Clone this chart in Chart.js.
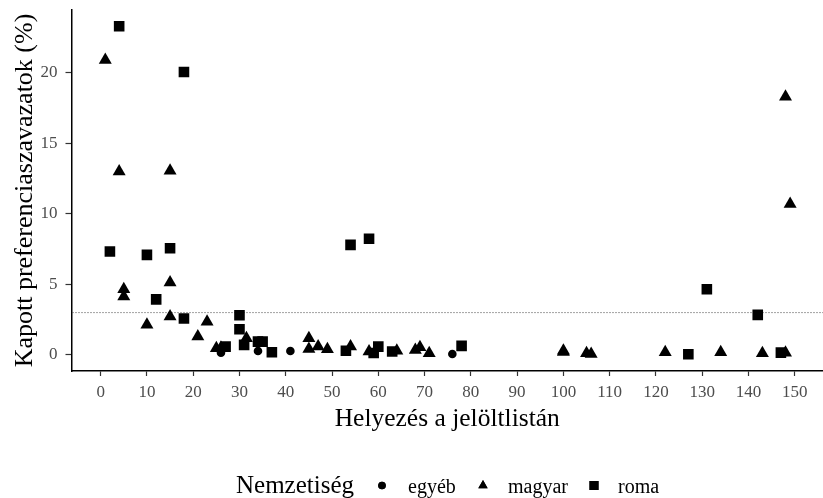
<!DOCTYPE html>
<html>
<head>
<meta charset="utf-8">
<script src="https://cdn.jsdelivr.net/npm/chart.js@4/dist/chart.umd.min.js"></script>
<style>
  body { margin: 0; background: #fff; }
  #wrap { width: 823px; height: 498px; }
</style>
</head>
<body>
<div id="wrap"><canvas id="Chart1" width="823" height="498"></canvas></div>
<script>
// data: [helyezés, kapott preferenciaszavazat %]
const egyeb = [[26,0.16],[34,0.28],[41,0.28],[76,0.07]];
const magyar = [
  [1,20.9],[4,13.0],[15,13.05],[5,4.66],[5,4.14],[15,5.13],[10,2.13],[15,2.72],
  [23,2.36],[21,1.3],[31.5,1.18],[25,0.47],[26,0.5],[45,1.18],[45,0.42],[47,0.59],
  [49,0.4],[54,0.59],[58,0.24],[64,0.3],[68,0.35],[69,0.54],[71,0.12],
  [100,0.3],[100,0.2],[105,0.12],[106,0.07],[122,0.19],[134,0.19],[143,0.12],
  [148,0.16],[148,18.3],[149,10.7]
];
const roma = [
  [4,23.3],[18,20.05],[2,7.33],[10,7.09],[15,7.56],[12,3.94],[18,2.58],[30,2.81],
  [30,1.82],[31,0.71],[34,0.94],[35,0.94],[37,0.19],[27,0.59],[53,0.3],[54,7.8],
  [58,8.23],[60,0.59],[59,0.14],[63,0.24],[78,0.64],[127,0.05],[131,4.66],
  [142,2.84],[147,0.16]
];
const xTicks = [0,10,20,30,40,50,60,70,80,90,100,110,120,130,140,150];
const yTicks = [0,5,10,15,20];
const threshold = 3;
const legendTitle = 'Nemzetiség';
const groupNames = ['egyéb','magyar','roma'];

const serif = 'Liberation Serif';
const toPts = (arr) => arr.map(p => ({x: p[0], y: p[1]}));
const noPad = (s) => { s.paddingTop = 0; s.paddingBottom = 0; s.paddingLeft = 0; s.paddingRight = 0; };

// dotted reference line at 3 %
const hline = {
  id: 'hline',
  beforeDatasetsDraw(chart) {
    const c = chart.ctx, a = chart.chartArea;
    const y = chart.scales.y.getPixelForValue(threshold);
    c.save();
    c.strokeStyle = '#444';
    c.lineWidth = 1;
    c.setLineDash([1, 2]);
    c.beginPath();
    c.moveTo(a.left + 1, y);
    c.lineTo(a.right, y);
    c.stroke();
    c.restore();
  }
};

// ggplot style legend along the bottom
const bottomLegend = {
  id: 'bottomLegend',
  afterDraw(chart) {
    const c = chart.ctx;
    c.save();
    c.fillStyle = '#000';
    c.textBaseline = 'alphabetic';
    c.font = '25px "' + serif + '"';
    c.fillText(legendTitle, 236, 493);
    c.font = '20px "' + serif + '"';
    const items = [
      {style: 'circle', r: 3.8, mx: 382, tx: 408},
      {style: 'triangle', r: 5.4, mx: 483, tx: 508},
      {style: 'rect', r: 6.4, mx: 594, tx: 618}
    ];
    items.forEach((it, i) => {
      c.fillStyle = '#000';
      c.strokeStyle = '#000';
      Chart.helpers.drawPoint(c, {pointStyle: it.style, radius: it.r, borderWidth: 0}, it.mx, 485.5);
      c.fill();
      c.fillText(groupNames[i], it.tx, 493);
    });
    c.restore();
  }
};

const data = {
  datasets: [
    {
      label: groupNames[0],
      data: toPts(egyeb),
      pointStyle: 'circle',
      pointRadius: 4.3,
      backgroundColor: '#000',
      borderColor: '#000',
      borderWidth: 0
    },
    {
      label: groupNames[1],
      data: toPts(magyar),
      pointStyle: 'triangle',
      pointRadius: 7.5,
      backgroundColor: '#000',
      borderColor: '#000',
      borderWidth: 0
    },
    {
      label: groupNames[2],
      data: toPts(roma),
      pointStyle: 'rect',
      pointRadius: 7.5,
      backgroundColor: '#000',
      borderColor: '#000',
      borderWidth: 0
    }
  ]
};

const config = {
  type: 'scatter',
  data: data,
  options: {
    responsive: false,
    maintainAspectRatio: false,
    animation: false,
    layout: { autoPadding: false, padding: { left: 0, right: 0, top: 10, bottom: 53 } },
    plugins: {
      legend: { display: false },
      tooltip: { enabled: false }
    },
    scales: {
      x: {
        type: 'linear',
        min: -6.3,
        max: 156.1,
        afterBuildTicks: (s) => { s.ticks = xTicks.map(v => ({value: v})); },
        afterFit: (s) => { s.height = 74; noPad(s); },
        border: { display: true, color: '#000', width: 1.5 },
        grid: { display: true, drawOnChartArea: false, drawTicks: true, tickLength: 5, tickColor: '#333', tickWidth: 1.2 },
        ticks: { color: '#4d4d4d', padding: 6, maxRotation: 0, autoSkip: false, font: { family: serif, size: 17 } },
        title: {
          display: true,
          text: 'Helyezés a jelöltlistán',
          color: '#000',
          font: { family: serif, size: 25.5 },
          padding: { top: 0, bottom: 10 }
        }
      },
      y: {
        type: 'linear',
        min: -1.14,
        max: 24.45,
        afterBuildTicks: (s) => { s.ticks = yTicks.map(v => ({value: v})); },
        afterFit: (s) => { s.width = 71.5; noPad(s); },
        border: { display: true, color: '#000', width: 1.5 },
        grid: { display: true, drawOnChartArea: false, drawTicks: true, tickLength: 6, tickColor: '#333', tickWidth: 1.2 },
        ticks: { color: '#4d4d4d', padding: 8, font: { family: serif, size: 17 } },
        title: {
          display: true,
          text: 'Kapott preferenciaszavazatok (%)',
          color: '#000',
          font: { family: serif, size: 26 },
          padding: { top: 10, bottom: 0 }
        }
      }
    }
  },
  plugins: [hline, bottomLegend]
};

var ctx = document.getElementById('Chart1').getContext('2d');
var myChart1 = new Chart(ctx, config);
</script>
</body>
</html>
